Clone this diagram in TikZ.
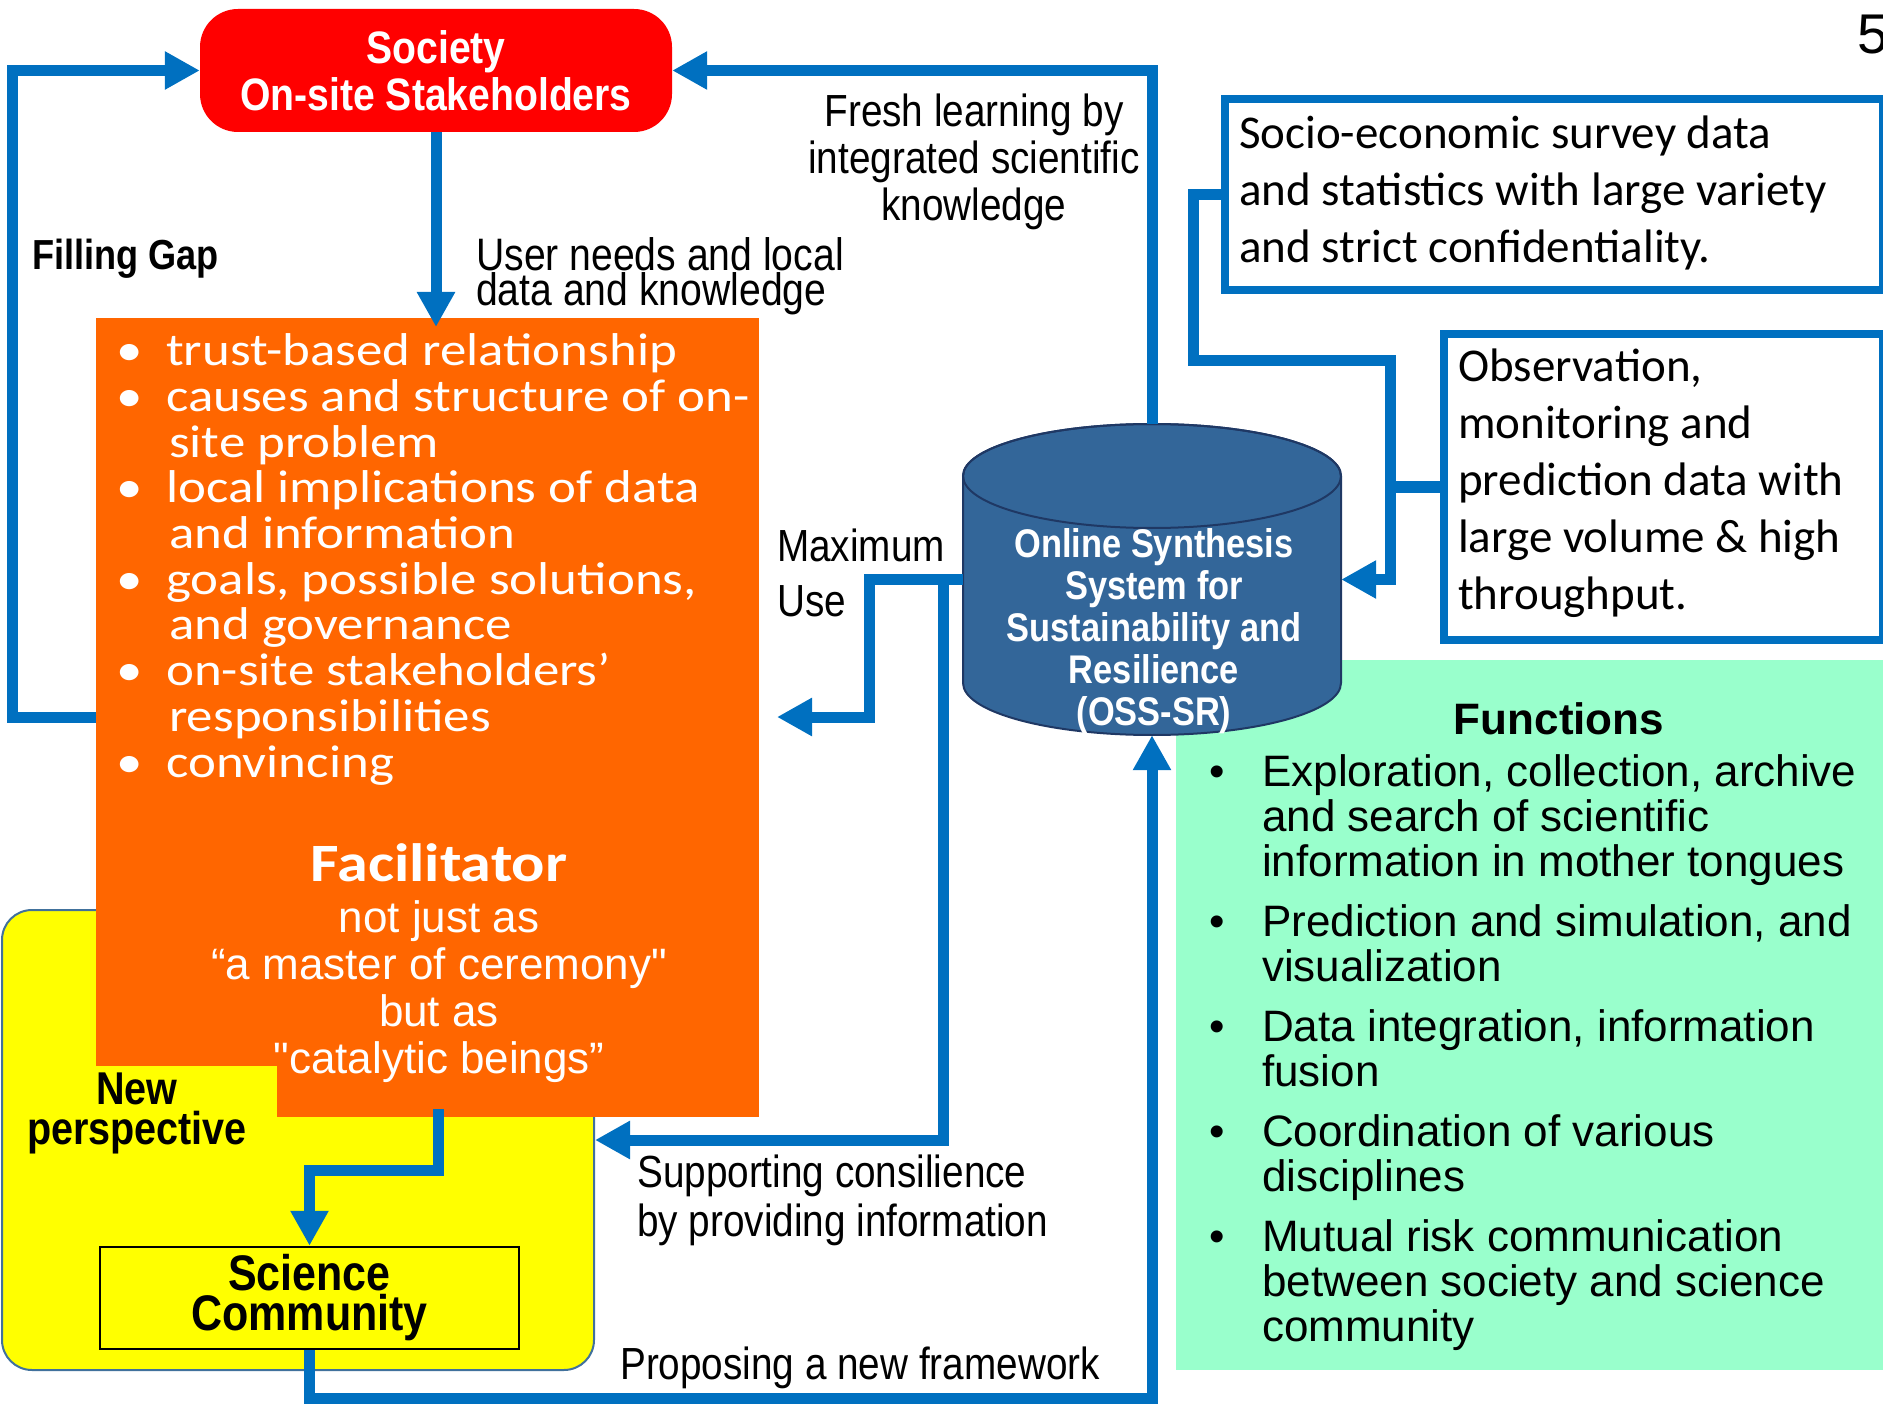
\documentclass[tikz,border=0pt]{standalone}
\usepackage{fontspec}
\setmainfont{Liberation Sans}
\newfontfamily\narrowsans[FakeStretch=0.86]{Liberation Sans}
\newfontfamily\calwide[FakeStretch=1.15]{Carlito}
\newfontfamily\calibri{Carlito}
\usetikzlibrary{arrows.meta}

\definecolor{linkblue}{HTML}{0070C0}
\definecolor{sockred}{HTML}{FF0000}
\definecolor{facorange}{HTML}{FF6600}
\definecolor{sciyellow}{HTML}{FFFF00}
\definecolor{yborder}{HTML}{41719C}
\definecolor{fungreen}{HTML}{99FFCC}
\definecolor{dbfill}{HTML}{336699}
\definecolor{dbline}{HTML}{1F3864}

\newcommand{\roledot}{\makebox[50pt][l]{•}}
\newcommand{\roleind}{\hspace*{53pt}}
\newcommand{\fundot}{\makebox[53pt][l]{•}}
\newcommand{\funind}{\hspace*{53pt}}

\begin{document}
\begin{tikzpicture}[x=1pt,y=-1pt,
  link/.style={draw=linkblue, line width=11pt},
  tip/.style={-{Triangle[length=35pt,width=36pt]}},
  lbl/.style={inner sep=0pt, font=\narrowsans\fontsize{45}{47}\selectfont, align=left},
  blbl/.style={inner sep=0pt, font=\narrowsans\bfseries\fontsize{42}{40}\selectfont, align=center},
  databox/.style={draw=linkblue, line width=8pt, fill=white, inner sep=0pt, anchor=north west},
  datatext/.style={inner sep=0pt, anchor=base west, align=left, font=\calibri\fontsize{47}{57}\selectfont},
]
\useasboundingbox (0,0) rectangle (1883,1404);

% Functions panel (multi-line texts are placed by the baseline of their last line)
\node[fill=fungreen, inner sep=0pt, anchor=north west, minimum width=720pt, minimum height=710pt] (funbox) at (1176,660) {};
\node[inner sep=0pt, anchor=base, font=\bfseries\fontsize{44}{44}\selectfont] (funtitle) at (1559,734) {Functions};
\node[inner sep=0pt, anchor=base west, align=left, font=\fontsize{44}{45}\selectfont] (funlist) at (1209,1341) {%
\fundot Exploration, collection, archive\\
\funind and search of scientific\\
\funind information in mother tongues\\[15pt]
\fundot Prediction and simulation, and\\
\funind visualization\\[15pt]
\fundot Data integration, information\\
\funind fusion\\[15pt]
\fundot Coordination of various\\
\funind disciplines\\[15pt]
\fundot Mutual risk communication\\
\funind between society and science\\
\funind community};

% data source boxes
\node[databox, minimum width=658pt, minimum height=191pt] (socio) at (1221,95) {};
\node[datatext] (sociotext) at (1239,263) {Socio-economic survey data\\and statistics with large variety\\and strict confidentiality.};
\node[databox, minimum width=439pt, minimum height=306pt] (obs) at (1440,330) {};
\node[datatext] (obstext) at (1458,609) {Observation,\\monitoring and\\prediction data with\\large volume \& high\\throughput.};

% OSS-SR database cylinder
\node[inner sep=0pt, minimum width=378pt, minimum height=311pt] (oss) at (1152,579.5) {};
\filldraw[fill=dbfill, draw=dbline, line width=2pt]
  (963,476) -- (963,683) arc[start angle=180, end angle=0, x radius=189, y radius=52]
  -- (1341,476) arc[start angle=360, end angle=180, x radius=189, y radius=52] -- cycle;
\draw[dbline, line width=2pt] (1152,476) ellipse[x radius=189, y radius=52];
\node[inner sep=0pt, anchor=base, align=center, text=white,
      font=\narrowsans\bfseries\fontsize{40}{42}\selectfont] (osstext) at (1154,725)
  {Online Synthesis\\System for\\Sustainability and\\Resilience\\(OSS-SR)};

% science community area
\node[draw=yborder, line width=2pt, fill=sciyellow, rounded corners=30pt, inner sep=0pt,
      anchor=north west, minimum width=592pt, minimum height=460pt] (sci) at (1,909) {};

% facilitator box
\node[fill=facorange, inner sep=0pt, anchor=north west, minimum width=663pt, minimum height=799pt] (facil) at (96,318) {};
\node[inner sep=0pt, anchor=base west, align=left, text=white,
      font=\calwide\fontsize{46}{45.7}\selectfont] (roles) at (116,777) {%
\roledot trust-based relationship\\
\roledot causes and structure of on-\\
\roleind site problem\\
\roledot local implications of data\\
\roleind and information\\
\roledot goals, possible solutions,\\
\roleind and governance\\
\roledot on-site stakeholders’\\
\roleind responsibilities\\
\roledot convincing};
\node[inner sep=0pt, anchor=base, text=white, font=\calwide\bfseries\fontsize{54}{54}\selectfont] (factitle) at (439,881) {Facilitator};
\node[inner sep=0pt, anchor=base, align=center, text=white, font=\fontsize{44}{47}\selectfont] (facsub) at (439,1073)
  {not just as\\“a master of ceremony\textquotedbl\\but as\\\textquotedbl catalytic beings”};

% new perspective tag
\fill[sciyellow] (96,1066) rectangle (277,1118);
\node[blbl, anchor=base, font=\narrowsans\bfseries\fontsize{46}{40}\selectfont] (newp) at (137,1144) {New\\perspective};

\node[draw=black, line width=2.5pt, fill=sciyellow, inner sep=0pt, minimum width=419pt, minimum height=102pt,
      align=center, font=\narrowsans\bfseries\fontsize{50}{40}\selectfont] (scicom) at (309.5,1298) {Science\\Community};

% society box
\node[fill=sockred, rounded corners=38pt, inner sep=0pt, minimum width=472pt, minimum height=123pt,
      text=white, align=center, font=\narrowsans\bfseries\fontsize{45.5}{47}\selectfont] (society) at (436,70.5)
  {Society\\On-site Stakeholders};

\node[inner sep=0pt, anchor=base west, font=\fontsize{56}{56}\selectfont] (pagenum) at (1857,54) {5};

% connector labels
\node[lbl, anchor=base, align=center] (fresh) at (974,221) {Fresh learning by\\integrated scientific\\knowledge};
\node[lbl, anchor=base west, font=\narrowsans\fontsize{45.5}{35}\selectfont] (needs) at (476,306) {User needs and local\\data and knowledge};
\node[blbl, anchor=base west] (gap) at (32,270) {Filling Gap};
\node[lbl, anchor=base west, font=\narrowsans\fontsize{45}{55}\selectfont] (maxuse) at (777,616) {Maximum\\Use};
\node[lbl, anchor=base west, font=\narrowsans\fontsize{45}{49}\selectfont] (consil) at (637,1236) {Supporting consilience\\by providing information};
\node[lbl, anchor=base west] (propose) at (620,1379) {Proposing a new framework};

% connectors
\coordinate (maxtip) at (777,717);
\draw[link, tip] (society.south) -- ([yshift=-9pt]society.south |- facil.north);
\draw[link, tip] (facil.west) -- ++(-84,0) |- (society.west);
\draw[link, tip] (oss.north) |- (society.east);
\draw[link, tip] (oss.west) -- ++(-93,0) |- (maxtip);
\draw[link, tip] (oss.west) -- ++(-19,0) |- (sci.east);
\draw[link, tip] (scicom.south) -- ++(0,48) -| (oss.south);
\draw[link, tip] ([xshift=10.5pt,yshift=8pt]facil.south) -- ++(0,61) -| (scicom.north);
\draw[link, tip] (socio.west) -- ++(-28,0) -- ++(0,166) -| ([xshift=49pt]oss.east) -- (oss.east);
\draw[link] (obs.west) -- ++(-50,0);
\end{tikzpicture}
\end{document}
